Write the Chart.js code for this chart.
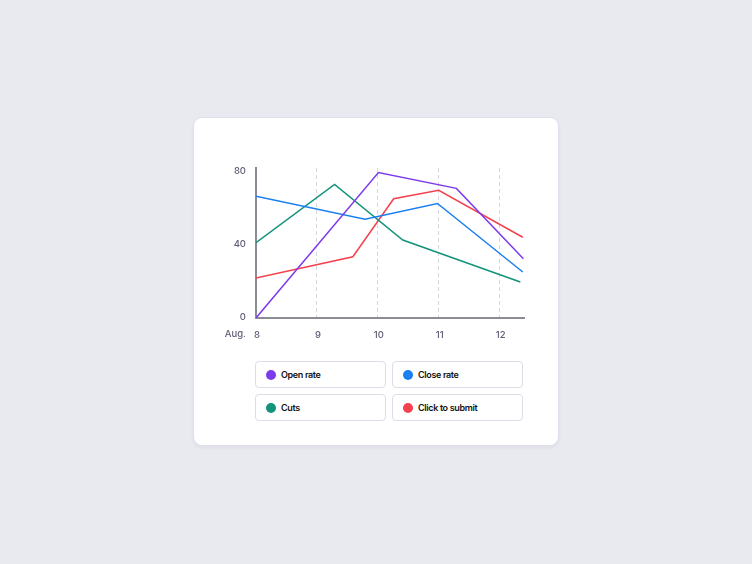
<!DOCTYPE html>
<html>
<head>
<meta charset="utf-8">
<script src="https://cdn.jsdelivr.net/npm/chart.js@4"></script>
<style>
  body { margin: 0; background: #e9eaf0; font-family: Inter, "Noto Sans", sans-serif; }
  .card {
    position: absolute; left: 194px; top: 118px; width: 364px; height: 327px;
    background: #fff; border-radius: 8px;
    box-shadow: 0 0 0 1px #dfe0ea, 0 2px 4px rgba(40, 40, 80, 0.08);
  }
  .chartBox { position: absolute; left: 16px; top: 32px; width: 330px; height: 200px; }
  .legend {
    position: absolute; left: 61px; top: 243px; width: 270px;
    display: grid; grid-template-columns: 131px 131px; gap: 6px;
  }
  .legendItem {
    box-sizing: border-box; height: 27px; border: 1px solid #dcdde7; border-radius: 4px;
    display: flex; align-items: center; padding-left: 10px;
    font-size: 9px; font-weight: 600; letter-spacing: -0.35px; color: #111;
  }
  .dot { width: 10px; height: 10px; border-radius: 50%; margin-right: 5px; }
</style>
</head>
<body>
<div class="card">
  <div class="chartBox"><canvas id="lineChart"></canvas></div>
  <div class="legend" id="legend"></div>
</div>
<script>
// values, [day, value]
const xTicks = [8, 9, 10, 11, 12]
const yTicks = [0, 40, 80]
const monthLabel = 'Aug.'
const seriesNames = ['Open rate', 'Close rate', 'Cuts', 'Click to submit']
const seriesColors = ['#7c3aed', '#1a7ff0', '#13937a', '#f4414e']
const openRate = [[8, 0], [10.01, 80], [11.29, 71.3], [12.39, 32.6]]
const closeRate = [[8, 67], [9.79, 54.3], [10.98, 63], [12.38, 25.3]]
const cuts = [[8, 41.4], [9.29, 73.5], [10.41, 42.9], [12.34, 19.8]]
const clickToSubmit = [[8, 22], [9.59, 33.7], [10.26, 65.6], [11, 70.2], [12.38, 44.4]]

const allSeries = [openRate, closeRate, cuts, clickToSubmit]

const tickFont = { family: 'Inter', size: 9.5, weight: '500' }
const tickColor = '#5f5d75'

// draws "Aug." left of the first day label
const monthPlugin = {
    id: 'monthLabel',
    afterDraw(chart) {
        const ctx = chart.ctx
        const xScale = chart.scales.x
        ctx.save()
        ctx.font = '500 9.5px Inter'
        ctx.fillStyle = tickColor
        ctx.textAlign = 'right'
        ctx.textBaseline = 'middle'
        ctx.fillText(monthLabel, chart.chartArea.left - 10, xScale.top + 16)
        ctx.restore()
    }
}

const lineChart = document.getElementById('lineChart').getContext('2d')
const data = {
    datasets: allSeries.map((s, i) => ({
        label: seriesNames[i],
        data: s.map(p => ({ x: p[0], y: p[1] })),
        borderColor: seriesColors[i],
        backgroundColor: seriesColors[i],
        borderWidth: 1.5,
        pointRadius: 0,
        tension: 0
    }))
}

const options = {
    responsive: true,
    maintainAspectRatio: false,
    animation: false,
    layout: { padding: { top: 18, right: 16 } },
    plugins: { legend: { display: false }, tooltip: { enabled: false } },
    scales: {
        x: {
            type: 'linear',
            min: 8,
            max: 12.4,
            afterBuildTicks: scale => { scale.ticks = xTicks.map(v => ({ value: v })) },
            afterFit: scale => { scale.height = 32 },
            ticks: { font: tickFont, color: tickColor, padding: 11, maxRotation: 0, labelOffset: 1 },
            grid: { color: '#d6d6de', lineWidth: 1, drawTicks: false },
            border: { color: '#8c8c94', width: 2, dash: [4, 3] }
        },
        y: {
            min: 0,
            max: 82.5,
            afterBuildTicks: scale => { scale.ticks = yTicks.map(v => ({ value: v })) },
            afterFit: scale => { scale.width = 46 },
            ticks: { font: tickFont, color: tickColor, padding: 10, labelOffset: -1 },
            grid: { display: false, drawTicks: false },
            border: { color: '#8c8c94', width: 2 }
        }
    }
}

const chart = new Chart(lineChart, {
    type: 'line',
    data: data,
    options: options,
    plugins: [monthPlugin]
})

// legend boxes under the chart
const legend = document.getElementById('legend')
chart.data.datasets.forEach(ds => {
    const item = document.createElement('div')
    item.className = 'legendItem'
    const dot = document.createElement('span')
    dot.className = 'dot'
    dot.style.background = ds.borderColor
    item.appendChild(dot)
    item.appendChild(document.createTextNode(ds.label))
    legend.appendChild(item)
})
</script>
</body>
</html>
